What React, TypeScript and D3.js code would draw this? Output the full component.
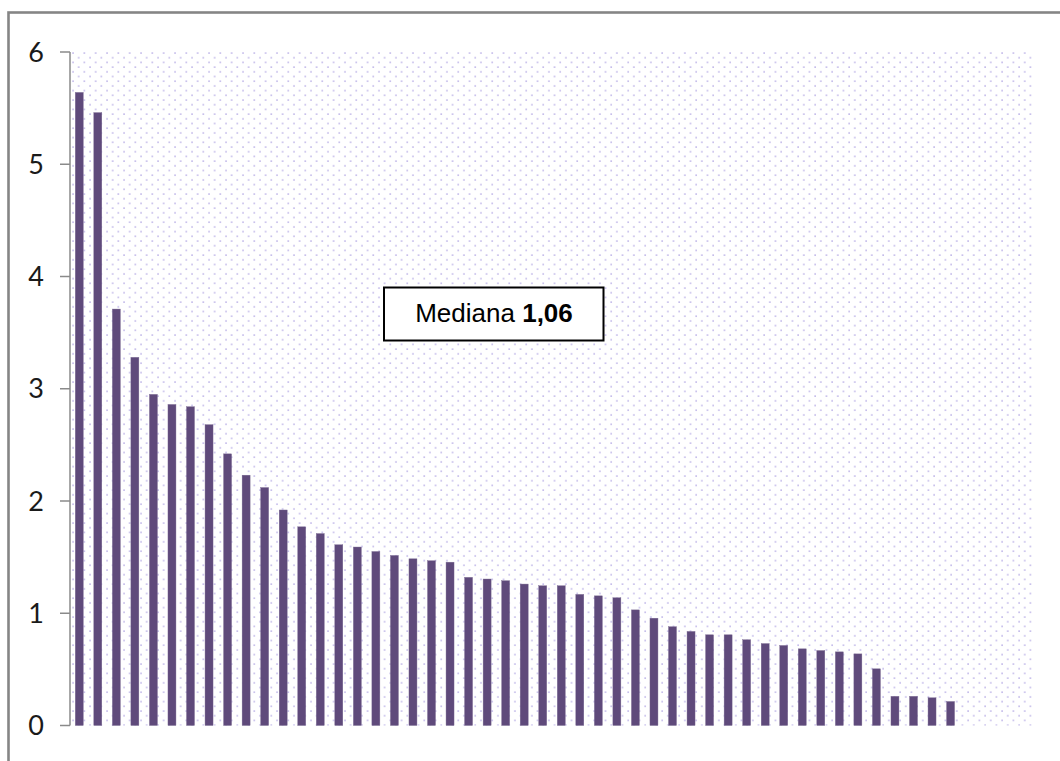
import React from "react";
import * as d3 from "d3";

const slots: string[] = [
  "1","2","3","4","5","6","7","8","9","10","11","12","13",
  "14","15","16","17","18","19","20","21","22","23","24","25","26",
  "27","28","29","30","31","32","33","34","35","36","37","38","39",
  "40","41","42","43","44","45","46","47","48","49","50","51","52",
];

const values: number[] = [
  5.64, 5.46, 3.71, 3.28, 2.95, 2.86, 2.84, 2.68, 2.42, 2.23, 2.12, 1.92,
  1.77, 1.71, 1.61, 1.59, 1.55, 1.515, 1.485, 1.468, 1.455, 1.32, 1.305, 1.29,
  1.26, 1.245, 1.245, 1.168, 1.155, 1.138, 1.03, 0.956, 0.88, 0.838, 0.808, 0.808,
  0.764, 0.73, 0.713, 0.683, 0.668, 0.656, 0.638, 0.505, 0.26, 0.26, 0.247, 0.214,
];

const yTicks: number[] = [0, 1, 2, 3, 4, 5, 6];
const annotationLabel = "Mediana ";
const annotationValue = "1,06";

export default function App() {
  const W = 1060;
  const H = 761;
  const left = 70;
  const right = 1034;
  const top = 52;
  const bottom = 725.5;

  const x = d3
    .scaleBand<string>()
    .domain(slots)
    .range([left, right])
    .paddingInner(0.569)
    .paddingOuter(0.2845);
  const y = d3.scaleLinear().domain([0, 6]).range([bottom, top]);

  const data = values.map((v, i) => ({ key: slots[i], v }));

  return (
    <svg
      width={W}
      height={H}
      style={{ position: "absolute", left: 0, top: 0, background: "#fff" }}
    >
      <defs>
        <pattern
          id="dots"
          patternUnits="userSpaceOnUse"
          width={11.33}
          height={9.4}
          x={left + 2}
          y={top}
        >
          <rect x={0.3} y={0.3} width={1.5} height={1.5} fill="#b9afe6" />
          <rect x={5.97} y={5.0} width={1.5} height={1.5} fill="#b9afe6" />
        </pattern>
      </defs>
      <rect x={0} y={0} width={W} height={H} fill="#fff" />
      {/* outer frame */}
      <rect
        x={8.5}
        y={12.5}
        width={1200}
        height={900}
        fill="none"
        stroke="#858585"
        strokeWidth={2.6}
      />
      {/* plot area pattern */}
      <rect
        x={left + 2}
        y={top}
        width={right - left - 2}
        height={bottom - top}
        fill="url(#dots)"
      />
      {/* bars */}
      {data.map((d) => (
        <rect
          key={d.key}
          x={x(d.key)!}
          y={y(d.v)}
          width={x.bandwidth()}
          height={y(0) - y(d.v)}
          fill="#5f4a7b"
          stroke="#7a6a92"
          strokeWidth={0.4}
        />
      ))}
      {/* y axis */}
      <line
        x1={left}
        x2={left}
        y1={y(6)}
        y2={y(0)}
        stroke="#8a8a8a"
        strokeWidth={1.5}
      />
      {yTicks.map((t) => (
        <g key={t}>
          <line
            x1={left - 10}
            x2={left}
            y1={y(t)}
            y2={y(t)}
            stroke="#8a8a8a"
            strokeWidth={1.5}
          />
          <text
            x={44}
            y={y(t)}
            dy="0.36em"
            textAnchor="end"
            fontFamily="Lato, 'Open Sans', sans-serif"
            fontSize={27}
            fill="#1a1a1a"
          >
            {t}
          </text>
        </g>
      ))}
      {/* annotation box */}
      <rect
        x={384}
        y={287.5}
        width={219.5}
        height={53}
        fill="#fff"
        stroke="#000"
        strokeWidth={2}
      />
      <text
        x={494}
        y={322}
        textAnchor="middle"
        fontFamily="'Liberation Sans', Arial, sans-serif"
        fontSize={26}
        fill="#000"
      >
        {annotationLabel}
        <tspan fontWeight="bold">{annotationValue}</tspan>
      </text>
    </svg>
  );
}
